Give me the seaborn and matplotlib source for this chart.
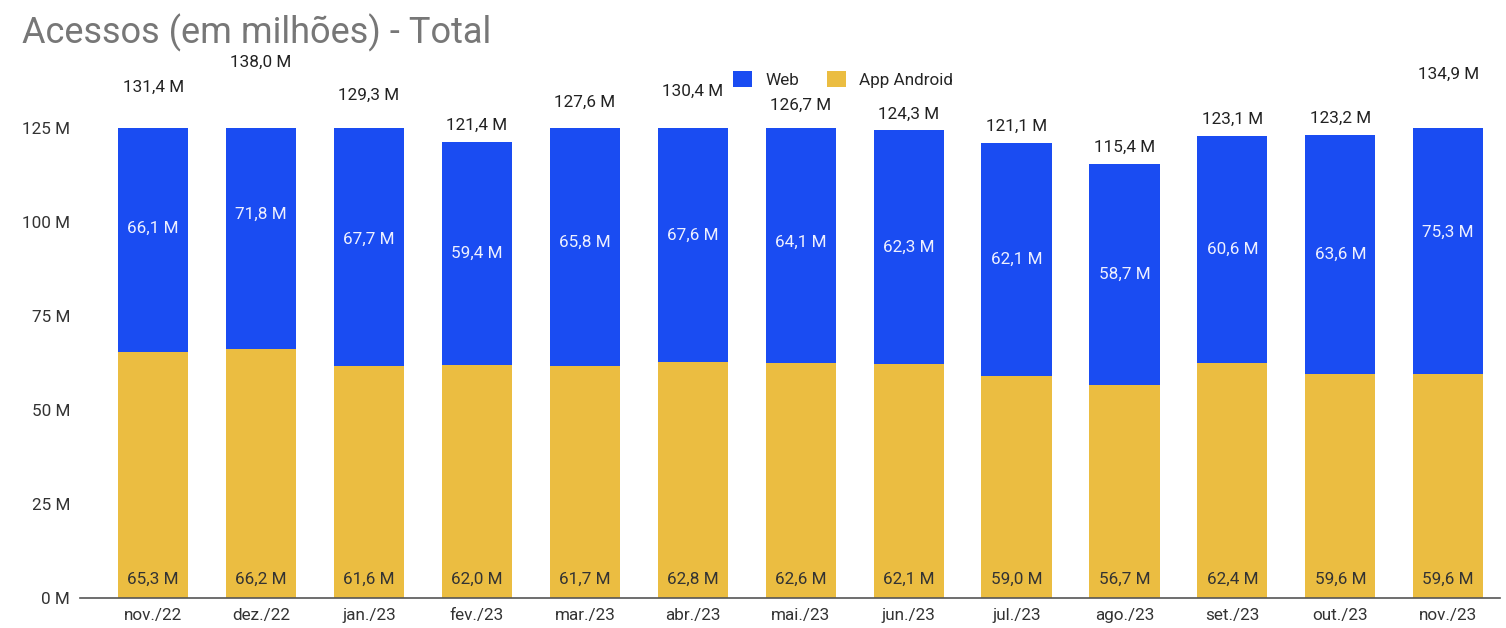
import matplotlib
matplotlib.use("Agg")
import matplotlib.pyplot as plt
import seaborn as sns
import pandas as pd
from matplotlib.patches import Patch

months = ["nov./22", "dez./22", "jan./23", "fev./23", "mar./23", "abr./23", "mai./23",
          "jun./23", "jul./23", "ago./23", "set./23", "out./23", "nov./23"]
android = [65.3, 66.2, 61.6, 62.0, 61.7, 62.8, 62.6, 62.1, 59.0, 56.7, 62.4, 59.6, 59.6]
web = [66.1, 71.8, 67.7, 59.4, 65.8, 67.6, 64.1, 62.3, 62.1, 58.7, 60.6, 63.6, 75.3]
totals = [131.4, 138.0, 129.3, 121.4, 127.6, 130.4, 126.7, 124.3, 121.1, 115.4, 123.1, 123.2, 134.9]
yticks = [0, 25, 50, 75, 100, 125]

BLUE = "#1a4cf2"
YELLOW = "#ebbd41"
FS = 12.3

sns.set_style("white")
plt.rcParams["font.family"] = ["Roboto", "DejaVu Sans"]

df = pd.DataFrame({"month": months, "android": android, "web": web})
df["stack"] = df["android"] + df["web"]

fig = plt.figure(figsize=(15.06, 6.28), dpi=100)
ax = fig.add_axes([0.053, 0.048, 0.943, 0.748])

sns.barplot(data=df, x="month", y="stack", color=BLUE, width=0.65, saturation=1,
            ax=ax, order=months, linewidth=0)
sns.barplot(data=df, x="month", y="android", color=YELLOW, width=0.65, saturation=1,
            ax=ax, order=months, linewidth=0)

def fmt(v):
    return f"{v:.1f}".replace(".", ",") + " M"

for i in range(len(months)):
    ax.annotate(fmt(totals[i]), (i, df["stack"][i]), xytext=(0, 6.5), textcoords="offset points",
                ha="center", va="bottom", fontsize=FS, color="#222222", annotation_clip=False)
    ax.annotate(fmt(web[i]), (i, android[i] + web[i] / 2), ha="center", va="center",
                fontsize=FS, color="#eef0ff")
    ax.annotate(fmt(android[i]), (i, 0), xytext=(0, 13), textcoords="offset points",
                ha="center", va="center", fontsize=FS, color="#333333")

ax.set_ylim(0, 125)
ax.set_xlim(-0.68, 12.48)
ax.set_yticks(yticks)
ax.set_yticklabels([f"{t} M" for t in yticks])
ax.set_xlabel("")
ax.set_ylabel("")
ax.tick_params(axis="both", length=0, labelsize=FS, colors="#333333")
ax.tick_params(axis="y", pad=7)
ax.tick_params(axis="x", pad=7)
for s in ["top", "right", "left"]:
    ax.spines[s].set_visible(False)
ax.spines["bottom"].set_color("#555555")
ax.spines["bottom"].set_linewidth(1.2)

fig.text(0.0146, 0.948, "Acessos (em milhões) - Total", fontsize=26, color="#777777",
         ha="left", va="center")

handles = [Patch(facecolor=BLUE, edgecolor="none"), Patch(facecolor=YELLOW, edgecolor="none")]
fig.legend(handles, ["Web", "App Android"], loc="center", bbox_to_anchor=(0.560, 0.874),
           ncol=2, frameon=False, fontsize=FS, handlelength=1.1, handleheight=1.1,
           handletextpad=0.8, columnspacing=1.6)

fig.savefig("out.png", dpi=100)
